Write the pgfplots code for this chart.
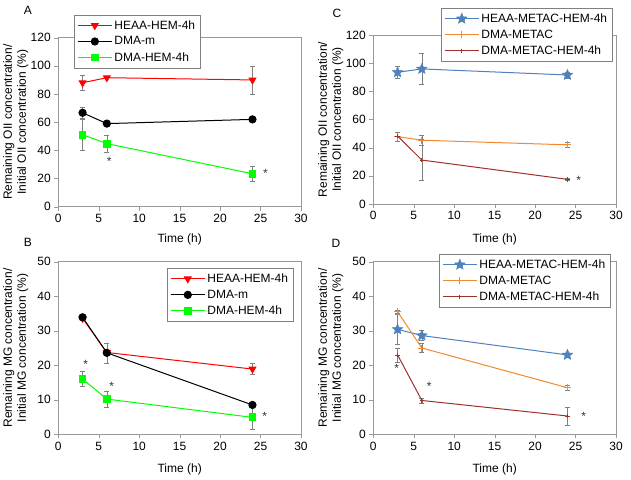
\documentclass[border=0pt]{standalone}
\usepackage{pgfplots}
\pgfplotsset{compat=1.18}
\usepackage{fontspec}
\setmainfont{Liberation Sans}

\definecolor{cblue}{RGB}{79,129,189}
\definecolor{orangeC}{RGB}{240,138,48}
\definecolor{cdark}{RGB}{160,48,42}
\definecolor{cgreen}{RGB}{0,255,0}

\tikzset{asterisk/.style={text=gray!40!black, inner sep=0pt, font=\fontsize{12}{14}\selectfont}}

% filled five-pointed star
\pgfdeclareplotmark{fstar}{%
  \pgfpathmoveto{\pgfpointpolar{90}{\pgfplotmarksize}}%
  \pgfpathlineto{\pgfpointpolar{126}{0.45\pgfplotmarksize}}%
  \pgfpathlineto{\pgfpointpolar{162}{\pgfplotmarksize}}%
  \pgfpathlineto{\pgfpointpolar{198}{0.45\pgfplotmarksize}}%
  \pgfpathlineto{\pgfpointpolar{234}{\pgfplotmarksize}}%
  \pgfpathlineto{\pgfpointpolar{270}{0.45\pgfplotmarksize}}%
  \pgfpathlineto{\pgfpointpolar{306}{\pgfplotmarksize}}%
  \pgfpathlineto{\pgfpointpolar{342}{0.45\pgfplotmarksize}}%
  \pgfpathlineto{\pgfpointpolar{18}{\pgfplotmarksize}}%
  \pgfpathlineto{\pgfpointpolar{54}{0.45\pgfplotmarksize}}%
  \pgfpathclose
  \pgfusepathqfillstroke}

\pgfplotsset{
  panel/.style={
    scale only axis,
    width=242.7pt,
    xmin=0, xmax=30, ymin=0,
    xtick={0,5,...,30},
    axis line style={gray!80},
    tick style={gray!80},
    tick align=outside,
    major tick length=4pt,
    xtick pos=bottom, ytick pos=left,
    font=\fontsize{12}{14}\selectfont,
    /pgf/number format/assume math mode=true,
    xlabel={Time (h)},
    ylabel style={align=center, at={(axis description cs:-0.175,0.5)}, anchor=center},
    legend cell align=left,
    legend style={draw=gray, fill=white, font=\fontsize{12}{14}\selectfont,
      inner xsep=3pt, inner ysep=3.5pt, row sep=2pt, anchor=north west},
    legend image code/.code={
      \draw[mark repeat=2,mark phase=2] plot coordinates {(0cm,0cm) (0.6cm,0cm) (1.2cm,0cm)};},
  },
  eb/.style={error bars/.cd, y dir=both, y explicit,
    error bar style={gray, line width=0.6pt},
    error mark options={gray, rotate=90, mark size=2.5pt, line width=0.6pt}},
  redS/.style={color=red, line width=1pt, mark=triangle*, mark size=3.8pt, mark options={rotate=180, fill=red}},
  blackS/.style={color=black, line width=1pt, mark=*, mark size=3.6pt},
  greenS/.style={color=cgreen, line width=1pt, mark=square*, mark size=3.4pt},
  blueS/.style={color=cblue, line width=1pt, mark=fstar, mark size=5.5pt, mark options={fill=cblue, line width=0.5pt}},
  orangeS/.style={color=orangeC, line width=1pt, mark=+, mark size=3.5pt, mark options={color=orangeC, line width=1pt}},
  darkS/.style={color=cdark, line width=1pt, mark=+, mark size=2.2pt, mark options={color=cdark, line width=0.7pt}},
}

\begin{document}
\begin{tikzpicture}[x=1pt,y=1pt]
\useasboundingbox (0,0) rectangle (631,479);

% ---------------- A ----------------
\begin{axis}[panel, at={(58.3pt,272.3pt)}, anchor=south west, height=169pt,
    ymax=120, ytick={0,20,...,120},
    ylabel={Remaining OII concentration/\\Initial OII concentration (\%)},
    xlabel style={at={(axis description cs:0.5,-0.195)}, anchor=center},
    legend style={at={(axis description cs:0.065,1.136)}}]
\addplot[redS, eb] coordinates {(3,88) +- (0,5) (6,91.6) +- (0,0) (24,90) +- (0,10)};
\addplot[blackS, eb] coordinates {(3,66.7) +- (0,4) (6,59) +- (0,0) (24,62) +- (0,1.5)};
\addplot[greenS, eb] coordinates {(3,51.1) +- (0,11) (6,44.8) +- (0,6) (24,23.4) +- (0,5.5)};
\legend{HEAA-HEM-4h, DMA-m, DMA-HEM-4h}
\node[asterisk] at (axis cs:6.3,32) {*};
\node[asterisk] at (axis cs:25.6,24) {*};
\end{axis}

% ---------------- C ----------------
\begin{axis}[panel, at={(373.3pt,275pt)}, anchor=south west, height=169pt,
    ymax=120, ytick={0,20,...,120},
    ylabel={Remaining OII concentration/\\Initial OII concentration (\%)},
    xlabel style={at={(axis description cs:0.5,-0.21)}, anchor=center},
    legend style={at={(axis description cs:0.279,1.160)}}]
\addplot[blueS, eb] coordinates {(3,93.5) +- (0,4.5) (6,95.9) +- (0,11) (24,91.6) +- (0,2)};
\addplot[orangeS, eb] coordinates {(3,47.8) +- (0,3.2) (6,45.3) +- (0,3.5) (24,42) +- (0,1.5)};
\addplot[darkS, eb] coordinates {(3,48.3) +- (0,0) (6,31.2) +- (0,14.5) (24,17.5) +- (0,0.5)};
\legend{HEAA-METAC-HEM-4h, DMA-METAC, DMA-METAC-HEM-4h}
\node[asterisk] at (axis cs:25.4,17) {*};
\end{axis}

% ---------------- B ----------------
\begin{axis}[panel, at={(58.3pt,44.7pt)}, anchor=south west, height=172.6pt,
    ymax=50, ytick={0,10,...,50},
    ylabel={Remaining MG concentration/\\Initial MG concentration (\%)},
    xlabel style={at={(axis description cs:0.5,-0.205)}, anchor=center},
    legend style={at={(axis description cs:0.448,0.963)}}]
\addplot[redS, eb] coordinates {(3,33.6) +- (0,0.5) (6,23.7) +- (0,0) (24,18.9) +- (0,1.6)};
\addplot[blackS, eb] coordinates {(3,33.9) +- (0,0.5) (6,23.6) +- (0,2.9) (24,8.5) +- (0,0.3)};
\addplot[greenS, eb] coordinates {(3,16.0) +- (0,2.2) (6,10.2) +- (0,2.3) (24,4.9) +- (0,3.4)};
\legend{HEAA-HEM-4h, DMA-m, DMA-HEM-4h}
\node[asterisk] at (axis cs:3.4,20.2) {*};
\node[asterisk] at (axis cs:6.6,13.8) {*};
\node[asterisk] at (axis cs:25.5,5.3) {*};
\end{axis}

% ---------------- D ----------------
\begin{axis}[panel, at={(373.3pt,44.7pt)}, anchor=south west, height=172.6pt,
    ymax=50, ytick={0,10,...,50},
    ylabel={Remaining MG concentration/\\Initial MG concentration (\%)},
    xlabel style={at={(axis description cs:0.5,-0.205)}, anchor=center},
    legend style={at={(axis description cs:0.271,1.045)}}]
\addplot[blueS, eb] coordinates {(3,30.4) +- (0,4.3) (6,28.6) +- (0,1.5) (24,23.0) +- (0,0.5)};
\addplot[orangeS, eb] coordinates {(3,35.5) +- (0,0.5) (6,25.0) +- (0,1.3) (24,13.5) +- (0,0.7)};
\addplot[darkS, eb] coordinates {(3,23.0) +- (0,2) (6,9.8) +- (0,0.7) (24,5.3) +- (0,2.6)};
\legend{HEAA-METAC-HEM-4h, DMA-METAC, DMA-METAC-HEM-4h}
\node[asterisk] at (axis cs:2.9,19.0) {*};
\node[asterisk] at (axis cs:6.9,14.0) {*};
\node[asterisk] at (axis cs:26.0,5.1) {*};
\end{axis}

% panel letters
\node[font=\fontsize{12}{14}\selectfont] at (28,469) {A};
\node[font=\fontsize{12}{14}\selectfont] at (337,466) {C};
\node[font=\fontsize{12}{14}\selectfont] at (28,237) {B};
\node[font=\fontsize{12}{14}\selectfont] at (336,236) {D};
\end{tikzpicture}
\end{document}
